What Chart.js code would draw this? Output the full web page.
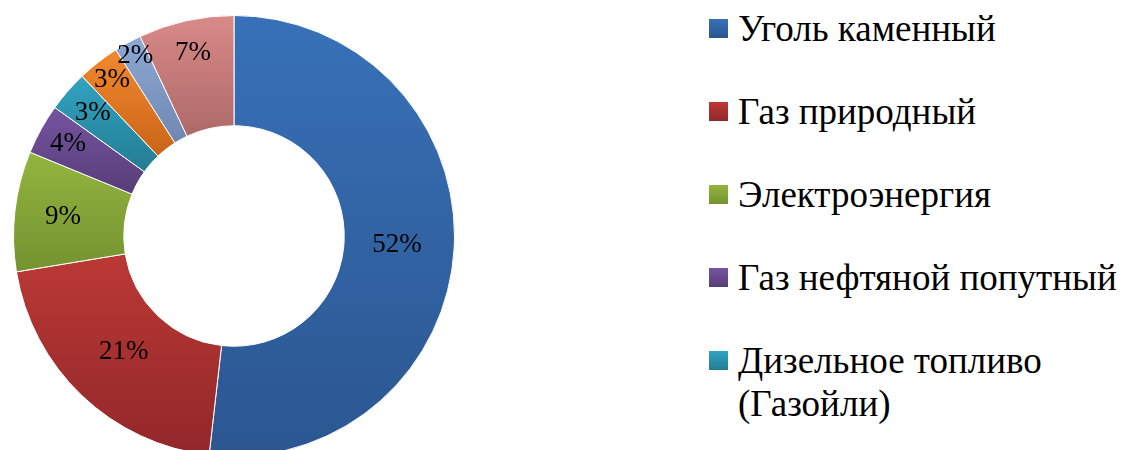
<!DOCTYPE html>
<html lang="ru">
<head>
<meta charset="utf-8">
<script src="https://cdn.jsdelivr.net/npm/chart.js@4.4.1/dist/chart.umd.min.js"></script>
<style>
  html, body { margin: 0; padding: 0; background: #fff; }
  body { width: 1122px; height: 450px; overflow: hidden; position: relative;
         font-family: "Liberation Serif", "Times New Roman", serif; }
  #chartBox { position: absolute; left: 0; top: 0; width: 468px; height: 472px; }
  #legend { position: absolute; left: 709px; top: 7px; width: 413px; margin: 0; padding: 0; list-style: none; }
  #legend li { position: relative; padding-left: 29px; margin-bottom: 40px;
               font-size: 37px; line-height: 43px; color: #000; }
  #legend li span { position: absolute; left: 0; top: 12px; width: 19px; height: 19px; }
</style>
</head>
<body>
<div id="chartBox"><canvas id="fuel-chart"></canvas></div>
<ul id="legend"></ul>
<script>
// Data
const categories = ['Уголь каменный', 'Газ природный', 'Электроэнергия', 'Газ нефтяной попутный',
    'Дизельное топливо (Газойли)', 'Мазут топочный', 'Бензин автомобильный', 'Прочие'];
const shares = [51.8, 20.6, 8.8, 3.7, 3.0, 3.1, 2.0, 7.0];

// Colours (top / bottom of the Excel-style gradient)
const topColors = ['#3871b8', '#bb3935', '#93b53f', '#7654a0', '#31a4c1', '#f3892e', '#8ea9d6', '#d98a88'];
const bottomColors = ['#2b5690', '#92272a', '#74922f', '#573d78', '#237c92', '#c96519', '#6f87b0', '#ad6a69'];

// where the % label sits between inner (0) and outer (1) edge
const labelRadius = [0.48, 0.45, 0.56, 0.72, 0.70, 0.80, 0.86, 0.70];

// gives every slice its own vertical gradient
const sliceGradient = {
    id: 'sliceGradient',
    beforeDatasetsDraw(chart) {
        const ctx = chart.ctx;
        chart.getDatasetMeta(0).data.forEach((arc, i) => {
            let yMin = Infinity, yMax = -Infinity;
            for (let k = 0; k <= 40; k++) {
                const a = arc.startAngle + (arc.endAngle - arc.startAngle) * k / 40;
                [arc.innerRadius, arc.outerRadius].forEach(r => {
                    const y = arc.y + r * Math.sin(a);
                    yMin = Math.min(yMin, y);
                    yMax = Math.max(yMax, y);
                });
            }
            const grad = ctx.createLinearGradient(0, yMin, 0, yMax);
            grad.addColorStop(0, topColors[i]);
            grad.addColorStop(1, bottomColors[i]);
            arc.options = Object.assign({}, arc.options, { backgroundColor: grad });
        });
    }
};

// percentage labels on the slices
const sliceLabels = {
    id: 'sliceLabels',
    afterDatasetsDraw(chart) {
        const ctx = chart.ctx;
        const total = shares.reduce((a, b) => a + b, 0);
        ctx.save();
        ctx.font = '27px "Liberation Serif", "Times New Roman", serif';
        ctx.fillStyle = '#000';
        ctx.textAlign = 'center';
        ctx.textBaseline = 'middle';
        chart.getDatasetMeta(0).data.forEach((arc, i) => {
            const mid = (arc.startAngle + arc.endAngle) / 2;
            const r = arc.innerRadius + (arc.outerRadius - arc.innerRadius) * labelRadius[i];
            const text = Math.round(shares[i] / total * 100) + '%';
            ctx.fillText(text, arc.x + r * Math.cos(mid), arc.y + r * Math.sin(mid));
        });
        ctx.restore();
    }
};

const chartCtx = document.getElementById('fuel-chart');
const fuelChart = new Chart(chartCtx, {
    type: 'doughnut',
    data: {
        labels: categories,
        datasets: [{
            data: shares,
            backgroundColor: topColors,
            borderColor: '#ffffff',
            borderWidth: 1
        }]
    },
    options: {
        responsive: true,
        maintainAspectRatio: false,
        animation: false,
        cutout: '50%',
        layout: { padding: 13 },
        plugins: {
            legend: { display: false },
            tooltip: { enabled: false }
        }
    },
    plugins: [sliceGradient, sliceLabels]
});

// html legend
const legendList = document.getElementById('legend');
categories.forEach((name, i) => {
    const li = document.createElement('li');
    const box = document.createElement('span');
    box.style.background = `linear-gradient(${topColors[i]}, ${bottomColors[i]})`;
    li.appendChild(box);
    li.appendChild(document.createTextNode(name));
    legendList.appendChild(li);
});
</script>
</body>
</html>
